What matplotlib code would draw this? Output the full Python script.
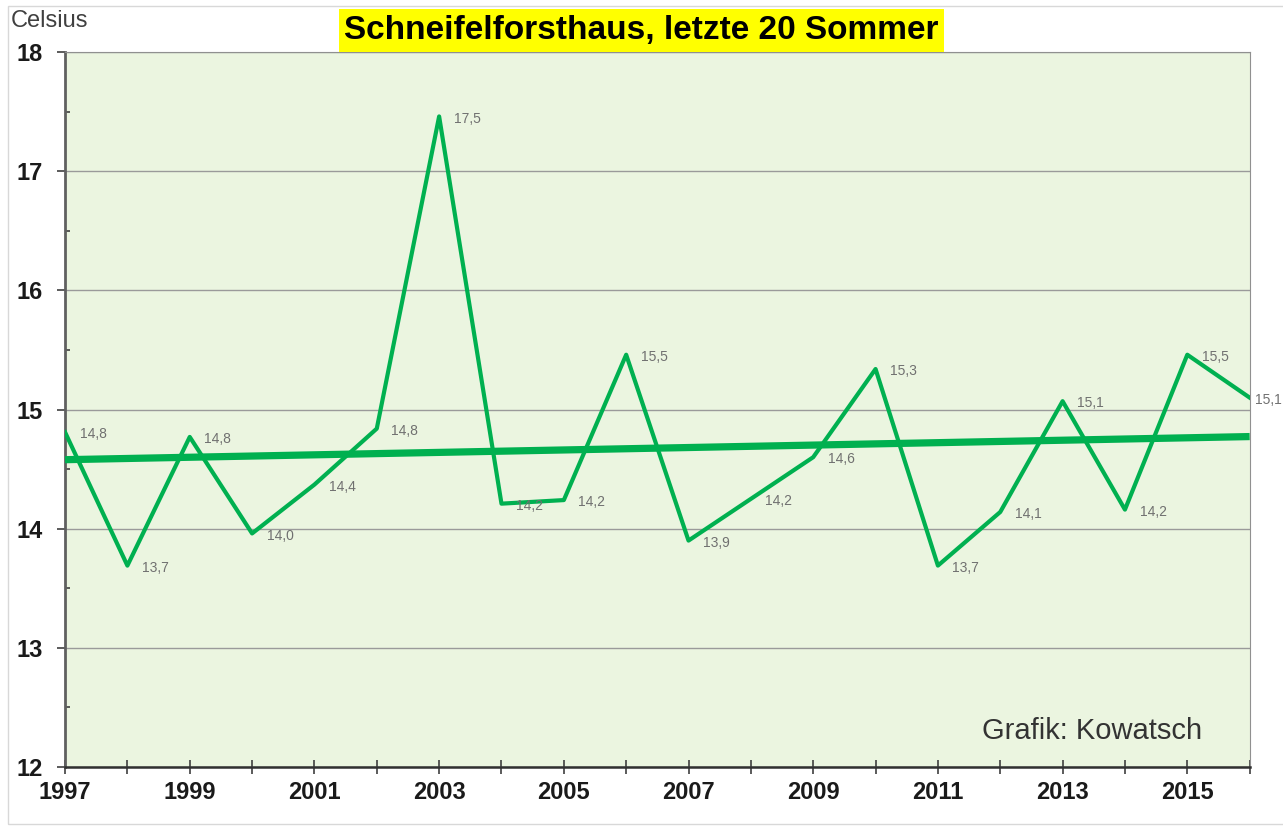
import numpy as np
import matplotlib
matplotlib.use("Agg")
import matplotlib.pyplot as plt
from matplotlib.ticker import MultipleLocator

plt.rcParams['font.family'] = ['Liberation Sans', 'DejaVu Sans']

jahre = list(range(1997, 2017))
temp = [14.81, 13.69, 14.77, 13.96, 14.37, 14.84, 17.46, 14.21, 14.24, 15.46,
        13.90, 14.25, 14.60, 15.34, 13.69, 14.14, 15.07, 14.16, 15.46, 15.10]
beschriftung = ["14,8", "13,7", "14,8", "14,0", "14,4", "14,8", "17,5", "14,2", "14,2", "15,5",
                "13,9", "14,2", "14,6", "15,3", "13,7", "14,1", "15,1", "14,2", "15,5", "15,1"]

gruen = '#00B050'

fig = plt.figure(figsize=(12.83, 8.27), dpi=100)
ax = fig.add_axes([0.0507, 0.0726, 0.9233, 0.8644])
ax.set_facecolor('#EBF5E0')

# trendline
k, d = np.polyfit(jahre, temp, 1)
ax.plot([1997, 2016], [k * 1997 + d, k * 2016 + d], color=gruen, lw=5.2, solid_capstyle='butt', zorder=3)

ax.plot(jahre, temp, color=gruen, lw=3, zorder=4)
for i, (j, t, s) in enumerate(zip(jahre, temp, beschriftung)):
    dx = 4 if i == len(jahre) - 1 else 10.5
    ax.annotate(s, (j, t), xytext=(dx, -1.5), textcoords='offset points',
                fontsize=10, color='#707070', va='center', ha='left', zorder=5,
                annotation_clip=False)

ax.set_xlim(1997, 2016)
ax.set_ylim(12, 18)
ax.yaxis.set_major_locator(MultipleLocator(1))
ax.yaxis.set_minor_locator(MultipleLocator(0.5))
ax.set_xticks(jahre)
ax.set_xticklabels([str(j) if (j - 1997) % 2 == 0 else '' for j in jahre])
ax.grid(axis='y', which='major', color='#9A9A9A', lw=1)
ax.set_axisbelow(True)

for lab in ax.get_yticklabels():
    lab.set_fontweight('bold')
for lab in ax.get_xticklabels():
    lab.set_fontweight('bold')
ax.tick_params(axis='y', which='major', length=6, width=1.2, labelsize=17, pad=10, color='#404040', labelcolor='#1a1a1a')
ax.tick_params(axis='y', which='minor', direction='in', length=3.5, width=1.2, color='#404040')
ax.tick_params(axis='x', which='major', direction='inout', length=10, width=1.2, labelsize=17, pad=5, color='#404040', labelcolor='#1a1a1a')

ax.spines['left'].set_color('#606060')
ax.spines['left'].set_linewidth(2)
ax.spines['bottom'].set_color('#303030')
ax.spines['bottom'].set_linewidth(1.8)
ax.spines['top'].set_color('#909090')
ax.spines['right'].set_color('#909090')

fig.text(0.5, 0.963, 'Schneifelforsthaus, letzte 20 Sommer', ha='center', va='center',
         fontsize=24, fontweight='bold', color='black',
         bbox=dict(facecolor='#FFFF00', edgecolor='none', pad=4))
fig.text(0.008, 0.975, 'Celsius', ha='left', va='center', fontsize=17, color='#404040')
ax.text(0.9595, 0.039, 'Grafik: Kowatsch', transform=ax.transAxes, ha='right', va='baseline',
        fontsize=21, color='#333333')

# dünner Rahmen um die Grafik
fig.patches.append(plt.Rectangle((0.006, 0.004), 1.2, 0.989, transform=fig.transFigure,
                                 fill=False, edgecolor='#D8D8D8', lw=1))

fig.savefig('out.png', dpi=100)
